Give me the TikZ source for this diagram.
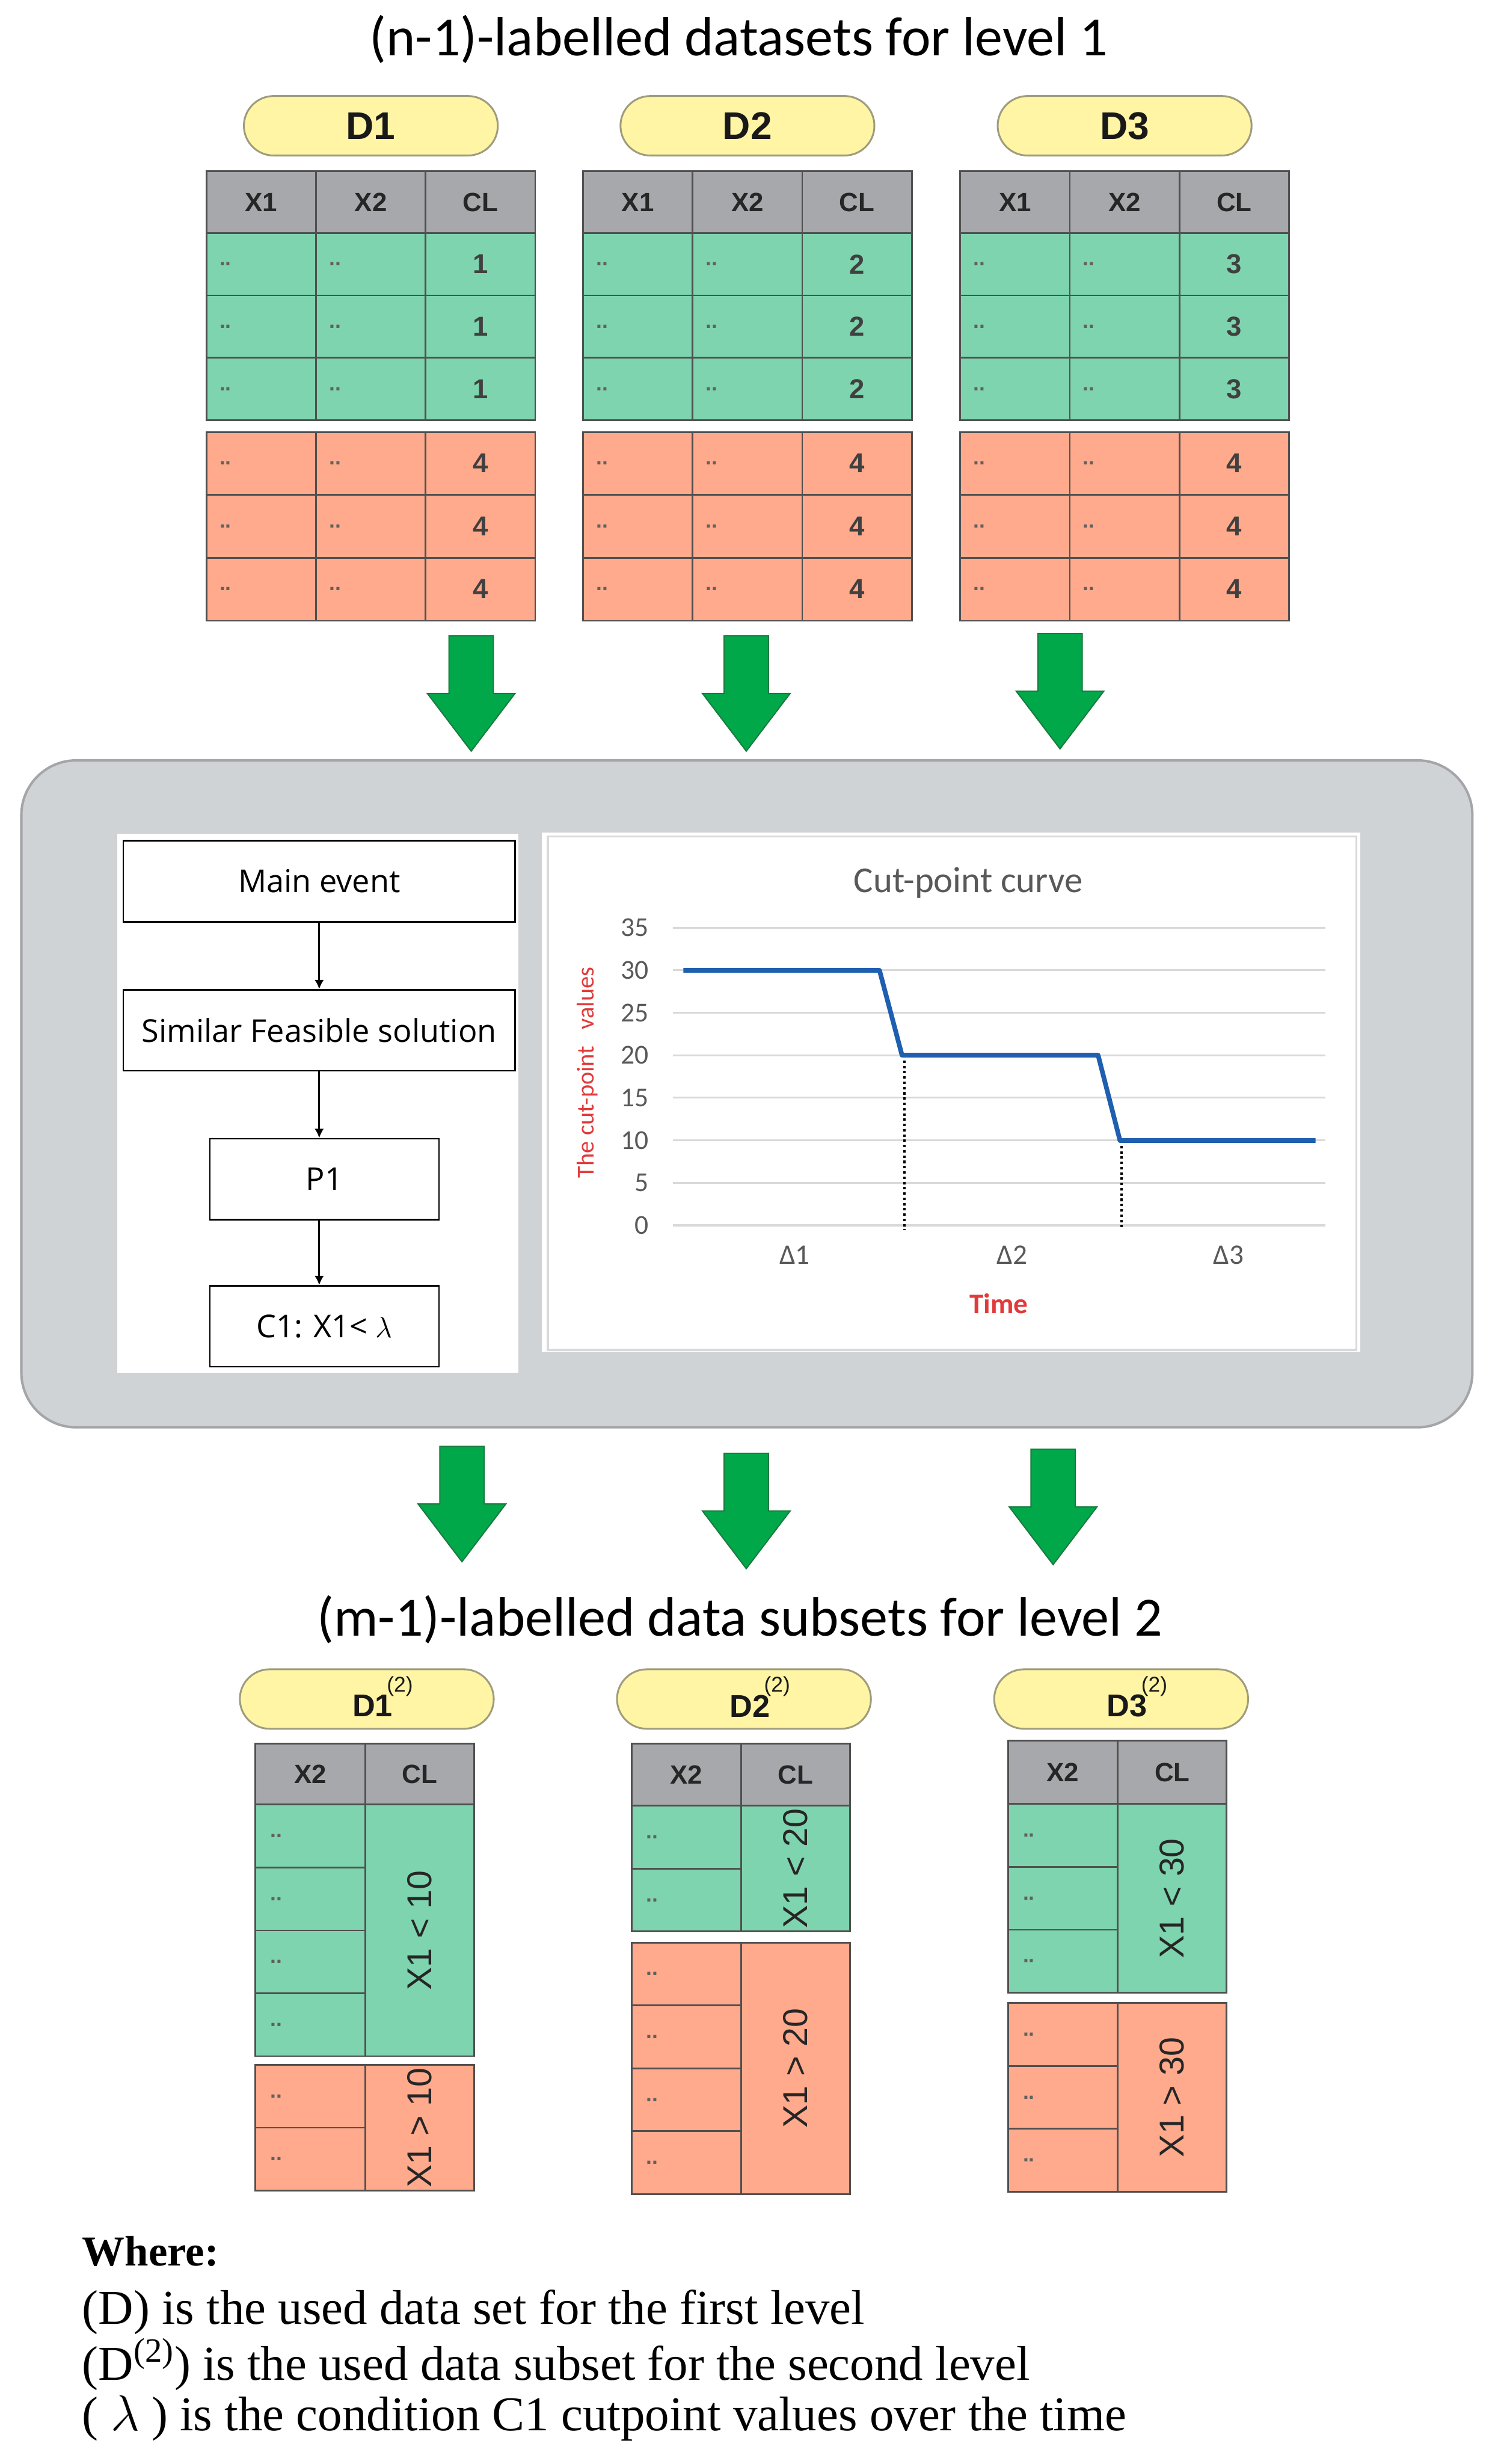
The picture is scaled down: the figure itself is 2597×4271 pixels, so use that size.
\documentclass[tikz,border=0pt]{standalone}
\usepackage{fontspec}
\setmainfont{Liberation Serif}
\newfontfamily\carl{Carlito}
\newfontfamily\arl{Liberation Sans}
\newfontfamily\osans{Open Sans}
\usetikzlibrary{shapes.misc,arrows.meta}
\newcommand\fsz[1]{\fontsize{#1}{#1}\selectfont}
\definecolor{hdrgrey}{HTML}{A6A8AB}
\definecolor{cellgreen}{HTML}{7ED4AE}
\definecolor{cellred}{HTML}{FFAA8C}
\definecolor{tblline}{HTML}{505050}
\definecolor{pillfill}{HTML}{FFF5A5}
\definecolor{pillline}{HTML}{9E9C7C}
\definecolor{agreen}{HTML}{00A84A}
\definecolor{agreendk}{HTML}{1B7A3E}
\definecolor{panelgrey}{HTML}{D0D3D6}
\definecolor{panelline}{HTML}{A3A5A8}
\definecolor{gridgrey}{HTML}{D9D9D9}
\definecolor{chartgrey}{HTML}{595959}
\definecolor{curveblue}{HTML}{1F5FAF}
\definecolor{labred}{HTML}{E23A3A}
\definecolor{dotgrey}{HTML}{606060}
\tikzset{
  tbl/.style={draw=tblline, line width=0.85pt},
  hdrtxt/.style={font=\arl\bfseries\fsz{13}, text=black!85, inner sep=0pt},
  numtxt/.style={font=\arl\bfseries\fsz{13.5}, text=black!75, inner sep=0pt},
  dottxt/.style={font=\arl\bfseries\fsz{10.5}, text=dotgrey, anchor=west, inner sep=0pt},
  rotlab/.style={font=\arl\fsz{17}, text=black!85, rotate=90, inner sep=0pt},
  pill/.style={rounded rectangle, draw=pillline, fill=pillfill, line width=0.9pt,
    minimum width=4.4cm, minimum height=1.03cm, inner sep=0pt},
  pilltxt/.style={font=\arl\bfseries\fsz{19}, text=black!90, inner sep=0pt},
  pilltxtb/.style={font=\arl\bfseries\fsz{15.5}, text=black!90, inner sep=0pt},
  flowbox/.style={draw=black, line width=0.8pt, font=\osans\fsz{15.5}, inner sep=0pt},
  flowarr/.style={draw=black, line width=0.8pt, -{Latex[length=1.6mm,width=1.6mm]}},
  ticktxt/.style={font=\carl\fsz{13.5}, text=chartgrey, inner sep=0pt},
  bigtitle/.style={font=\carl\fsz{27.3}, text=black, inner sep=0pt},
  wheretxt/.style={font=\fsz{24}, anchor=base west, inner sep=0pt},
  garrow/.pic={\filldraw[fill=agreen, draw=agreendk, line width=0.6pt]
     (-38.5,0) -- (38.5,0) -- (38.5,100) -- (76,100) -- (0,200) -- (-76,100) -- (-38.5,100) -- cycle;}
}
% top table: #1 left x, #2 class number, #3 name prefix
\newcommand\toptab[3]{%
\begin{scope}[shift={(#1,0)}]
  \fill[hdrgrey] (0,297) rectangle (570,404);
  \fill[cellgreen] (0,404) rectangle (570,728);
  \fill[cellred] (0,749) rectangle (570,1076);
  \draw[tbl] (0,297) rectangle (570,728);
  \draw[tbl] (0,749) rectangle (570,1076);
  \foreach \yy in {404,512,620,858,967} {\draw[tbl] (0,\yy) -- (570,\yy);}
  \foreach \xx in {190,380} {\draw[tbl] (\xx,297) -- (\xx,728); \draw[tbl] (\xx,749) -- (\xx,1076);}
  \node[pill] (#3p) at (285,218) {};
  \node[pilltxt] (#3pt) at (#3p.center) {D#2};
  \node[hdrtxt] (#3h1) at (95,350.5) {X1};
  \node[hdrtxt] (#3h2) at (285,350.5) {X2};
  \node[hdrtxt] (#3h3) at (475,350.5) {CL};
  \foreach \yy [count=\k] in {458,566,674} {
    \node[dottxt] (#3ga\k) at (22,\yy) {..};
    \node[dottxt] (#3gb\k) at (212,\yy) {..};
    \node[numtxt] (#3gc\k) at (475,\yy) {#2};}
  \foreach \yy [count=\k] in {803,912,1021} {
    \node[dottxt] (#3ra\k) at (22,\yy) {..};
    \node[dottxt] (#3rb\k) at (212,\yy) {..};
    \node[numtxt] (#3rc\k) at (475,\yy) {4};}
\end{scope}}
% bottom table: #1 left x, #2 name, #3 header top, #4 green top, #5 n green,
% #6 red top, #7 n red, #8 green label, #9 red label
\newcommand\btab[9]{%
\begin{scope}[shift={(#1,0)}]
  \fill[hdrgrey] (0,#3) rectangle (379,#4);
  \fill[cellgreen] (0,#4) rectangle (379,{#4+#5*109});
  \fill[cellred] (0,#6) rectangle (379,{#6+#7*109});
  \draw[tbl] (0,#3) rectangle (379,{#4+#5*109});
  \draw[tbl] (0,#4) -- (379,#4);
  \draw[tbl] (190,#3) -- (190,{#4+#5*109});
  \draw[tbl] (0,#6) rectangle (379,{#6+#7*109});
  \draw[tbl] (190,#6) -- (190,{#6+#7*109});
  \pgfmathtruncatemacro\ngm{#5-1}
  \pgfmathtruncatemacro\nrm{#7-1}
  \foreach \i in {1,...,\ngm} {\draw[tbl] (0,{#4+\i*109}) -- (190,{#4+\i*109});}
  \foreach \i in {1,...,\nrm} {\draw[tbl] (0,{#6+\i*109}) -- (190,{#6+\i*109});}
  \foreach \i in {1,...,#5} {\node[dottxt] (#2g\i) at (25,{#4+(\i-0.5)*109}) {..};}
  \foreach \i in {1,...,#7} {\node[dottxt] (#2r\i) at (25,{#6+(\i-0.5)*109}) {..};}
  \node[hdrtxt] (#2h1) at (95,{(#3+#4)/2}) {X2};
  \node[hdrtxt] (#2h2) at (284.5,{(#3+#4)/2}) {CL};
  \node[rotlab] (#2gl) at (284.5,{#4+#5*54.5}) {#8};
  \node[rotlab] (#2rl) at (284.5,{#6+#7*54.5}) {#9};
\end{scope}}
\newcommand\supb{\rlap{\kern-0.1cm\smash{\raisebox{0.43cm}{\arl\mdseries\fsz{10.5}(2)}}}}
\begin{document}
\begin{tikzpicture}[x=0.01cm,y=-0.01cm]
\useasboundingbox (0,0) rectangle (2597,4271);
\fill[white] (0,0) rectangle (2597,4271);

% title
\node[bigtitle] (title1) at (1281,68) {(n-1)-labelled datasets for level 1};

% top tables
\toptab{358}{1}{ta}
\toptab{1011}{2}{tb}
\toptab{1665}{3}{tc}

% top arrows
\pic at (817,1102) {garrow};
\pic at (1294,1102) {garrow};
\pic at (1838,1098) {garrow};

% grey panel
\draw[fill=panelgrey, draw=panelline, line width=1.2pt, rounded corners=0.95cm] (37,1318) rectangle (2553,2474);

% flowchart panel
\fill[white] (203,1445) rectangle (899,2379);
\node[flowbox, minimum width=6.79cm, minimum height=1.41cm] (m1) at (553.5,1527.5) {Main event};
\node[flowbox, minimum width=6.79cm, minimum height=1.40cm] (m2) at (553.5,1786) {Similar Feasible solution};
\node[flowbox, minimum width=3.97cm, minimum height=1.40cm] (m3) at (562.5,2044) {P1};
\node[flowbox, minimum width=3.97cm, minimum height=1.40cm] (m4) at (562.5,2299) {C1: X1< $\lambda$};
\draw[flowarr] (m1.south) -- (m2.north);
\draw[flowarr] (m2.south) -- (m2.south |- m3.north);
\draw[flowarr] (m2.south |- m3.south) -- (m2.south |- m4.north);

% chart panel
\fill[white] (939,1443) rectangle (2359,2343);
\draw[draw=gridgrey, line width=1pt] (950,1450) rectangle (2352,2340);
\node[font=\carl\fsz{18}, text=chartgrey, inner sep=0pt] (ctitle) at (1679,1530) {Cut-point curve};
\foreach \v in {0,5,...,35} {
  \draw[draw=gridgrey, line width=0.9pt] (1167,{2124-14.743*\v}) -- (2298,{2124-14.743*\v});
  \node[ticktxt, anchor=east] (tick\v) at (1125,{2124-14.743*\v}) {\v};
}
\draw[draw=black, line width=1.1pt, dash pattern=on 1.2pt off 1.4pt] (1568,1829) -- (1568,2132);
\draw[draw=black, line width=1.1pt, dash pattern=on 1.2pt off 1.4pt] (1945,1977) -- (1945,2132);
\draw[draw=curveblue, line width=2.3pt, line join=round] (1185,1682) -- (1525,1682) -- (1564,1829) -- (1904,1829) -- (1942,1977) -- (2281,1977);
\node[ticktxt, font=\carl\fsz{14}] (dl1) at (1378,2175) {Δ1};
\node[ticktxt, font=\carl\fsz{14}] (dl2) at (1755,2175) {Δ2};
\node[ticktxt, font=\carl\fsz{14}] (dl3) at (2130,2175) {Δ3};
\node[font=\carl\bfseries\fsz{14}, text=labred, inner sep=0pt] (ctime) at (1732,2260) {Time};
\node[font=\carl\fsz{12}, text=labred, rotate=90, inner sep=0pt] (cylab) at (1018,1859) {The cut-point~~~values};

% lower arrows
\pic at (801,2507) {garrow};
\pic at (1294,2519) {garrow};
\pic at (1826,2512) {garrow};

% subtitle
\node[bigtitle] (title2) at (1283,2807) {(m-1)-labelled data subsets for level 2};

% bottom pills
\node[pill] (qa) at (636,2945) {};
\node[pilltxtb] (qat) at ([xshift=0.1cm,yshift=-0.12cm]qa.center) {D1\supb};
\node[pill] (qb) at (1290,2945) {};
\node[pilltxtb] (qbt) at ([xshift=0.1cm,yshift=-0.12cm]qb.center) {D2\supb};
\node[pill] (qc) at (1944,2945) {};
\node[pilltxtb] (qct) at ([xshift=0.1cm,yshift=-0.12cm]qc.center) {D3\supb};

% bottom tables
\btab{443}{ba}{3022}{3128}{4}{3579}{2}{X1 < 10}{X1 > 10}
\btab{1095}{bb}{3022}{3130}{2}{3367}{4}{X1 < 20}{X1 > 20}
\btab{1748}{bc}{3017}{3127}{3}{3472}{3}{X1 < 30}{X1 > 30}

% legend
\node[wheretxt, font=\bfseries\fsz{21}] (w0) at (142,3927) {Where:};
\node[wheretxt] (w1) at (142,4028) {(D) is the used data set for the first level};
\node[wheretxt] (w2) at (142,4126) {(D\textsuperscript{(2)}) is the used data subset for the second level};
\node[wheretxt] (w3) at (142,4213) {( $\lambda$ ) is the condition C1 cutpoint values over the time};
\end{tikzpicture}
\end{document}
